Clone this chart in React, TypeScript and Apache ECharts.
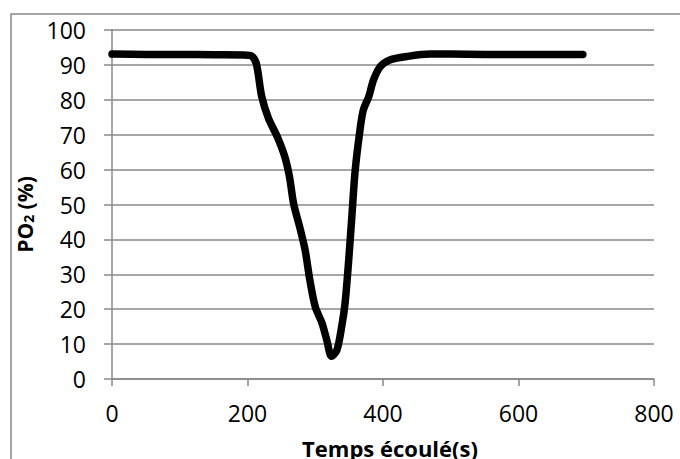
import React, { useEffect, useRef } from "react";
import * as echarts from "echarts";

const xTicks = [0, 200, 400, 600, 800];
const yTicks = [0, 10, 20, 30, 40, 50, 60, 70, 80, 90, 100];

const times = [0, 50, 100, 150, 200, 206, 213, 221, 231, 244, 255, 262, 268, 277, 285, 292, 300, 310, 317, 324, 332, 339, 344, 349, 354, 359, 366, 371, 379, 386, 396, 410, 435, 469, 499, 550, 600, 650, 695];
const po2 = [93.1, 93.0, 93.0, 92.9, 92.8, 92.6, 90.4, 80.9, 74.7, 69.4, 63.7, 57.9, 50.3, 43.6, 37.0, 28.4, 20.7, 16.0, 11.2, 6.5, 8.3, 15.0, 21.7, 33.1, 46.5, 59.9, 71.3, 77.1, 80.9, 85.7, 89.5, 91.4, 92.4, 93.1, 93.1, 93.0, 93.0, 93.0, 93.0];

const xTitle = "Temps écoulé(s)";
const yTitle = "PO{sub|2} (%)";

const FONT = "'Open Sans', 'Noto Sans', sans-serif";
const GRID_COLOR = "#898989";

export default function App() {
  const ref = useRef<HTMLDivElement>(null);
  useEffect(() => {
    if (!ref.current) return;
    const chart = echarts.init(ref.current, undefined, { renderer: "svg" });
    chart.setOption({
      animation: false,
      backgroundColor: "#ffffff",
      grid: {
        left: 112,
        right: 26,
        top: 30,
        bottom: 80,
        containLabel: false,
        outerBoundsMode: "none",
      },
      graphic: [
        {
          type: "rect",
          silent: true,
          shape: { x: 11, y: 14, width: 700, height: 500 },
          style: { fill: "none", stroke: GRID_COLOR, lineWidth: 1.5 },
        },
      ],
      xAxis: {
        type: "value",
        min: xTicks[0],
        max: xTicks[xTicks.length - 1],
        interval: xTicks[1] - xTicks[0],
        splitLine: { show: false },
        axisLine: { show: true, lineStyle: { color: GRID_COLOR, width: 1.5 } },
        axisTick: { show: true, length: 7, lineStyle: { color: GRID_COLOR, width: 1.5 } },
        axisLabel: { fontSize: 23, fontFamily: FONT, color: "#000", margin: 22 },
        name: xTitle,
        nameLocation: "middle",
        nameGap: 58,
        nameTextStyle: {
          fontSize: 22,
          fontWeight: "bold",
          fontFamily: FONT,
          color: "#000",
          padding: [0, 0, 0, 14],
        },
      },
      yAxis: {
        type: "value",
        min: yTicks[0],
        max: yTicks[yTicks.length - 1],
        interval: yTicks[1] - yTicks[0],
        splitLine: { show: true, lineStyle: { color: GRID_COLOR, width: 1.5 } },
        axisLine: { show: true, lineStyle: { color: GRID_COLOR, width: 1.5 } },
        axisTick: { show: true, length: 8, lineStyle: { color: GRID_COLOR, width: 1.5 } },
        axisLabel: { fontSize: 23, fontFamily: FONT, color: "#000", margin: 26 },
        name: yTitle,
        nameLocation: "middle",
        nameGap: 62,
        nameTextStyle: {
          fontSize: 21,
          fontWeight: "bold",
          fontFamily: FONT,
          color: "#000",
          padding: [0, 20, 0, 0],
          rich: {
            sub: {
              fontSize: 14,
              fontWeight: "bold",
              fontFamily: FONT,
              color: "#000",
              verticalAlign: "bottom",
              padding: [8, 0, 0, 0],
            },
          },
        },
      },
      series: [
        {
          type: "line",
          data: times.map((t, i) => [t, po2[i]]),
          showSymbol: false,
          smooth: 0.3,
          lineStyle: { color: "#000", width: 7.5, cap: "round", join: "round" },
        },
      ],
    });
    return () => chart.dispose();
  }, []);
  return (
    <div
      ref={ref}
      style={{ position: "fixed", left: 0, top: 0, width: 680, height: 459, background: "#fff" }}
    />
  );
}
